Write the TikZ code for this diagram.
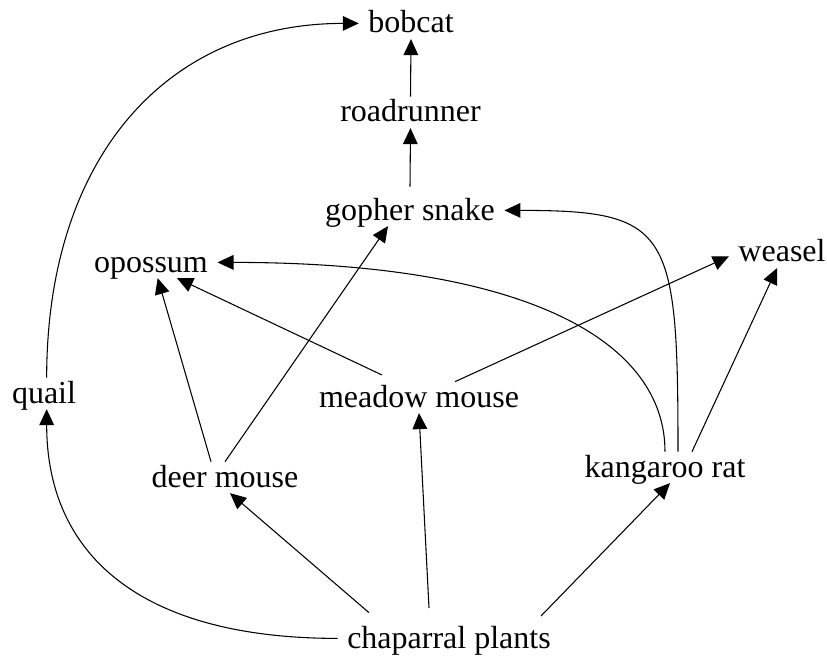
\documentclass[tikz,border=0pt]{standalone}
\usepackage{fontspec}
\setmainfont{Liberation Serif}
\usetikzlibrary{arrows.meta}
\tikzset{>={Triangle[length=12pt,width=11pt]}}

\begin{document}
\begin{tikzpicture}[x=0.75pt,y=-0.75pt,
    animal/.style={anchor=base,inner xsep=7pt,inner ysep=2pt,text height=16.8pt,text depth=2.4pt,font=\fontsize{24}{28}\selectfont},
    eats/.style={->,line width=0.8pt}]
  \useasboundingbox (0,0) rectangle (827,659);
  % Organisms
  \node[animal] (bobcat) at (411,33) {bobcat};
  \node[animal] (roadrunner) at (410.5,122) {roadrunner};
  \node[animal] (gopher) at (410,220) {gopher snake};
  \node[animal] (opossum) at (151,272) {opossum};
  \node[animal] (weasel) at (782,262) {weasel};
  \node[animal] (quail) at (44,403) {quail};
  \node[animal] (meadow) at (419,407) {meadow mouse};
  \node[animal] (deer) at (225,487) {deer mouse};
  \node[animal] (kangaroo) at (665,477) {kangaroo rat};
  \node[animal] (plants) at (449,648) {chaparral plants};

  % Straight links
  \draw[eats] ([xshift=-60pt,yshift=7.5pt]plants.north) -- ([xshift=3.75pt]deer.south);
  \draw[eats] ([xshift=-15pt,yshift=11pt]plants.north) -- (meadow.south);
  \draw[eats] ([xshift=69pt,yshift=5pt]plants.north) -- ([xshift=3.75pt]kangaroo.south);
  \draw[eats] ([xshift=-10.5pt]deer.north) -- ([xshift=5pt]opossum.south);
  \draw[eats] (deer.north) -- ([xshift=-16.5pt]gopher.south);
  \draw[eats] ([xshift=-27.75pt,yshift=5pt]meadow.north) -- ([xshift=19.5pt]opossum.south);
  \draw[eats] ([xshift=27pt]meadow.north) -- ([yshift=-3pt]weasel.west);
  \draw[eats] ([xshift=20.25pt]kangaroo.north) -- ([xshift=-3.75pt]weasel.south);
  \draw[eats] ([yshift=6pt]gopher.north) -- (roadrunner.south);
  \draw[eats] (roadrunner.north) -- (bobcat.south);

  % Curved links
  \draw[eats] (plants.west) to[out=180,in=-90,out distance=151pt,in distance=107pt] ([xshift=2pt]quail.south);
  \draw[eats] ([xshift=2pt]quail.north) to[out=90,in=180,out distance=164pt,in distance=145pt] (bobcat.west);
  \draw[eats] (kangaroo.north) to[out=90,in=0,out distance=81pt,in distance=236pt] (opossum.east);
  \draw[eats] ([xshift=9.75pt]kangaroo.north) to[out=90,in=0,out distance=167pt,in distance=124pt] (gopher.east);
\end{tikzpicture}
\end{document}
